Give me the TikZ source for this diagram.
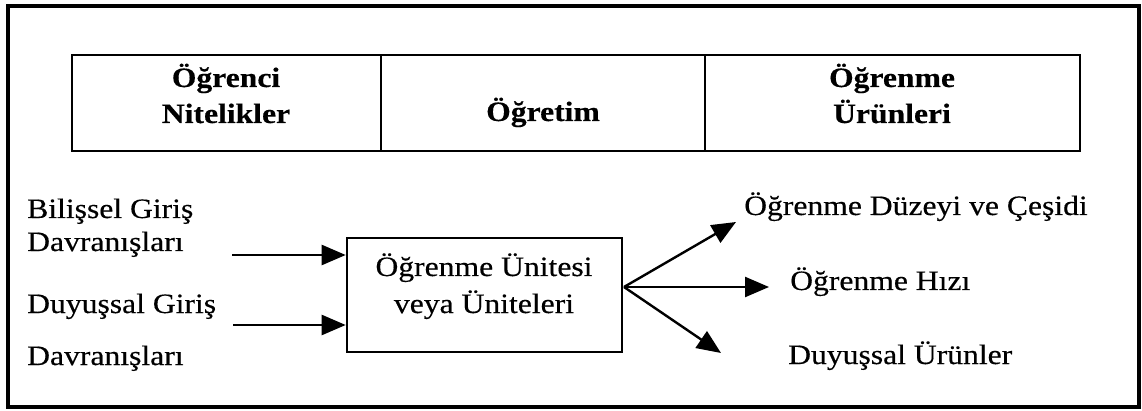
\documentclass[tikz,border=0pt]{standalone}
\usepackage{fontspec}
\setmainfont[FakeStretch=1.13,FakeBold=0.4]{Liberation Serif}
\usetikzlibrary{arrows.meta}
\begin{document}
\begin{tikzpicture}[x=1pt,y=-1pt,
  txt/.style={inner sep=0pt,font=\fontsize{28}{32}\selectfont},
  hdr/.style={txt,font=\fontsize{28}{32}\selectfont\bfseries},
  frameline/.style={line width=3.5pt},
  tabline/.style={line width=2.6pt},
  arr/.style={line width=2.4pt,-{Triangle[length=24pt,width=20pt]}}]
\useasboundingbox (0,0) rectangle (1142,411);
% outer frame
\draw[frameline] (8,6) rectangle (1139,407);
% header table
\node[draw,tabline,minimum width=309pt,minimum height=96pt,inner sep=0pt] (c1) at (226.5,103) {};
\node[draw,tabline,minimum width=324pt,minimum height=96pt,inner sep=0pt] (c2) at (543,103) {};
\node[draw,tabline,minimum width=375pt,minimum height=96pt,inner sep=0pt] (c3) at (892.5,103) {};
\node[hdr,anchor=base] (h1a) at (226,87) {Öğrenci};
\node[hdr,anchor=base] (h1b) at (226,123) {Nitelikler};
\node[hdr,anchor=base] (h2) at (543,121) {Öğretim};
\node[hdr,anchor=base] (h3a) at (892,87) {Öğrenme};
\node[hdr,anchor=base] (h3b) at (892,123) {Ürünleri};
% left labels
\node[txt,anchor=base west] (l1a) at (27,218) {Bilişsel Giriş};
\node[txt,anchor=base west] (l1b) at (27,251) {Davranışları};
\node[txt,anchor=base west] (l2a) at (27,313) {Duyuşsal Giriş};
\node[txt,anchor=base west] (l2b) at (27,365) {Davranışları};
% central box
\node[draw,tabline,minimum width=275pt,minimum height=114pt,inner sep=0pt] (box) at (484.5,295) {};
\node[txt,anchor=base] (b1) at (484,276) {Öğrenme Ünitesi};
\node[txt,anchor=base] (b2) at (484,313) {veya Üniteleri};
% right labels
\node[txt,anchor=base west] (r1) at (744,215) {Öğrenme Düzeyi ve Çeşidi};
\node[txt,anchor=base west] (r2) at (790,290) {Öğrenme Hızı};
\node[txt,anchor=base west] (r3) at (788,364) {Duyuşsal Ürünler};
% arrows
\coordinate (in1) at (232,255);
\coordinate (in2) at (233,325);
\draw[arr] (in1) -- (in1 -| box.west);
\draw[arr] (in2) -- (in2 -| box.west);
\coordinate (fan) at (624,287);
\coordinate (t1) at (736,222);
\coordinate (t2) at (769,287);
\coordinate (t3) at (721,353);
\draw[arr] (fan) -- (t1);
\draw[arr] (fan) -- (t2);
\draw[arr] (fan) -- (t3);
\end{tikzpicture}
\end{document}
